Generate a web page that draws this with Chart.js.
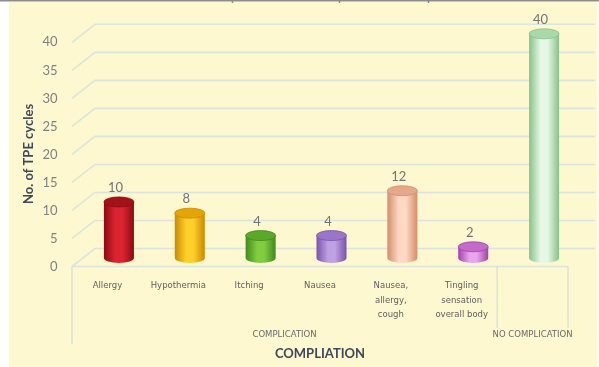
<!DOCTYPE html>
<html>
<head>
<meta charset="utf-8">
<script src="https://cdn.jsdelivr.net/npm/chart.js@4"></script>
<style>
  html, body { margin: 0; padding: 0; background: #ffffff; }
  canvas { display: block; }
</style>
</head>
<body>
<canvas id="chart" width="599" height="367"></canvas>
<script>
// Complications recorded per TPE cycle
const categories = [
  ['Allergy'],
  ['Hypothermia'],
  ['Itching'],
  ['Nausea'],
  ['Nausea,', 'allergy,', 'cough'],
  ['Tingling', 'sensation', 'overall body'],
  ['']
];
const cycles = [10, 8, 4, 4, 12, 2, 40];
const groupLabels = ['COMPLICATION', 'NO COMPLICATION'];
const groupSizes = [6, 1];
const yTicks = [0, 5, 10, 15, 20, 25, 30, 35, 40];
const xTitle = 'COMPLIATION';
const yTitle = 'No. of TPE cycles';

// cylinder shading: edge, highlight, top cap
const palette = [
  { edge: '#8a0b12', mid: '#dc2430', top: '#a3121b' },
  { edge: '#c98a00', mid: '#ffcf2a', top: '#e3a406' },
  { edge: '#3f8a1d', mid: '#82cc40', top: '#5ba82b' },
  { edge: '#7a53a8', mid: '#bea0e4', top: '#9b76c8' },
  { edge: '#d28e6c', mid: '#fdd8c2', top: '#e6a88a' },
  { edge: '#a042a8', mid: '#eaa6ec', top: '#c46ac9' },
  { edge: '#86c28a', mid: '#e6f7e3', top: '#a9d9aa' }
];

const DEPTH_UP = 9.5;    // back wall offset above the value line
const DEPTH_DOWN = 8.5;  // front edge offset below the value line
const SHIFT_X = 11.5;    // horizontal perspective shift of the front edge
const CAP_RY = 5;

function cylGradient(ctx, x0, x1, c) {
  const g = ctx.createLinearGradient(x0, 0, x1, 0);
  g.addColorStop(0, c.edge);
  g.addColorStop(0.38, c.mid);
  g.addColorStop(0.62, c.mid);
  g.addColorStop(1, c.edge);
  return g;
}

const backdrop = {
  id: 'backdrop',
  beforeDraw(chart) {
    const ctx = chart.ctx;
    ctx.save();
    ctx.fillStyle = '#ffffff';
    ctx.fillRect(0, 0, chart.width, chart.height);
    ctx.fillStyle = '#fdf8cf';
    ctx.fillRect(9, 2, 588, 365);
    ctx.strokeStyle = '#8c8c8c';
    ctx.lineWidth = 1.5;
    ctx.beginPath();
    ctx.moveTo(0, 0.75); ctx.lineTo(599, 0.75);
    [232, 339, 428].forEach(x => { ctx.moveTo(x + 0.5, 0); ctx.lineTo(x + 0.5, 3); });
    ctx.stroke();
    ctx.restore();
  }
};

const walls = {
  id: 'walls',
  beforeDatasetsDraw(chart) {
    const ctx = chart.ctx;
    const y = chart.scales.y, x = chart.scales.x;
    const step = (x.getPixelForValue(1) - x.getPixelForValue(0));
    const frontLeft = x.getPixelForValue(0) - step / 2 - SHIFT_X;
    const backLeft = frontLeft + 23;
    const frontRight = frontLeft + step * categories.length;
    ctx.save();
    ctx.strokeStyle = 'rgba(214,224,224,0.85)';
    ctx.lineWidth = 1.6;
    yTicks.forEach(v => {
      const py = y.getPixelForValue(v);
      ctx.beginPath();
      ctx.moveTo(frontLeft, py + DEPTH_DOWN);
      ctx.lineTo(backLeft, py - DEPTH_UP);
      ctx.lineTo(595, py - DEPTH_UP);
      ctx.stroke();
    });
    // floor front edge and group separators
    const floorY = y.getPixelForValue(0) + DEPTH_DOWN;
    ctx.beginPath();
    ctx.moveTo(frontLeft, floorY); ctx.lineTo(frontRight, floorY);
    ctx.stroke();
    let idx = 0;
    const bounds = [frontLeft];
    groupSizes.forEach(n => { idx += n; bounds.push(frontLeft + step * idx); });
    ctx.beginPath();
    bounds.forEach((bx, i) => {
      ctx.moveTo(bx, floorY);
      ctx.lineTo(bx, i === 0 ? 344 : 328);
    });
    ctx.stroke();
    ctx.restore();
  }
};

const cylinders = {
  id: 'cylinders',
  afterDatasetsDraw(chart) {
    const ctx = chart.ctx;
    const meta = chart.getDatasetMeta(0);
    ctx.save();
    meta.data.forEach((bar, i) => {
      const p = bar.getProps(['x', 'y', 'base', 'width'], true);
      const r = p.width / 2;
      const c = palette[i];
      // rounded bottom
      ctx.beginPath();
      ctx.ellipse(p.x, p.base, r, CAP_RY, 0, 0, Math.PI);
      ctx.fillStyle = cylGradient(ctx, p.x - r, p.x + r, c);
      ctx.fill();
      // top cap
      ctx.beginPath();
      ctx.ellipse(p.x, p.y, r, CAP_RY, 0, 0, Math.PI * 2);
      ctx.fillStyle = c.top;
      ctx.fill();
      ctx.lineWidth = 0.8;
      ctx.strokeStyle = c.edge;
      ctx.stroke();
      // value label
      ctx.fillStyle = '#737373';
      ctx.font = '13px Lato';
      ctx.textAlign = 'center';
      ctx.textBaseline = 'middle';
      ctx.fillText(String(cycles[i]), p.x - 3.5, p.y - 14);
    });
    ctx.restore();
  }
};

const annotations = {
  id: 'annotations',
  afterDraw(chart) {
    const ctx = chart.ctx;
    const x = chart.scales.x;
    const step = (x.getPixelForValue(1) - x.getPixelForValue(0));
    const frontLeft = x.getPixelForValue(0) - step / 2 - SHIFT_X;
    ctx.save();
    ctx.fillStyle = '#6a6a6a';
    ctx.font = '8.5px "DejaVu Sans"';
    ctx.textAlign = 'center';
    ctx.textBaseline = 'middle';
    let idx = 0;
    groupLabels.forEach((g, k) => {
      const a = frontLeft + step * idx;
      idx += groupSizes[k];
      const b = frontLeft + step * idx;
      ctx.fillText(g, (a + b) / 2, 335);
    });
    ctx.fillStyle = '#3e4858';
    ctx.font = 'bold 13px Lato';
    ctx.fillText(xTitle, 320, 354);
    ctx.translate(29, 154);
    ctx.rotate(-Math.PI / 2);
    ctx.font = 'bold 13px Lato';
    ctx.fillText(yTitle, 0, 0);
    ctx.restore();
  }
};

new Chart(document.getElementById('chart'), {
  type: 'bar',
  data: {
    labels: categories,
    datasets: [{
      data: cycles,
      barPercentage: 0.4234,
      categoryPercentage: 1,
      borderWidth: 0,
      backgroundColor(context) {
        const chart = context.chart;
        const c = palette[context.dataIndex];
        if (!chart.chartArea || !chart.scales.x) return c.mid;
        const step = chart.scales.x.getPixelForValue(1) - chart.scales.x.getPixelForValue(0);
        const half = step * 0.4234 / 2;
        const cx = chart.scales.x.getPixelForValue(context.dataIndex);
        return cylGradient(chart.ctx, cx - half, cx + half, c);
      }
    }]
  },
  options: {
    responsive: false,
    animation: false,
    devicePixelRatio: 1,
    layout: { padding: { left: 0, right: 19.5, top: 31, bottom: 0 } },
    plugins: { legend: { display: false }, tooltip: { enabled: false } },
    scales: {
      x: {
        grid: { display: false, drawTicks: false },
        border: { display: false },
        ticks: {
          autoSkip: false,
          maxRotation: 0,
          labelOffset: -SHIFT_X,
          padding: 20,
          color: '#606060',
          font: { family: 'DejaVu Sans', size: 8.5, lineHeight: 1.75 }
        },
        afterFit(scale) { scale.height = 109; }
      },
      y: {
        min: 0,
        max: 40,
        grid: { display: false, drawTicks: false },
        border: { display: false },
        ticks: {
          stepSize: 5,
          padding: 26,
          labelOffset: DEPTH_DOWN,
          color: '#808080',
          font: { family: 'Lato', size: 13 }
        },
        afterFit(scale) { scale.width = 83.5; }
      }
    }
  },
  plugins: [backdrop, walls, cylinders, annotations]
});
</script>
</body>
</html>
